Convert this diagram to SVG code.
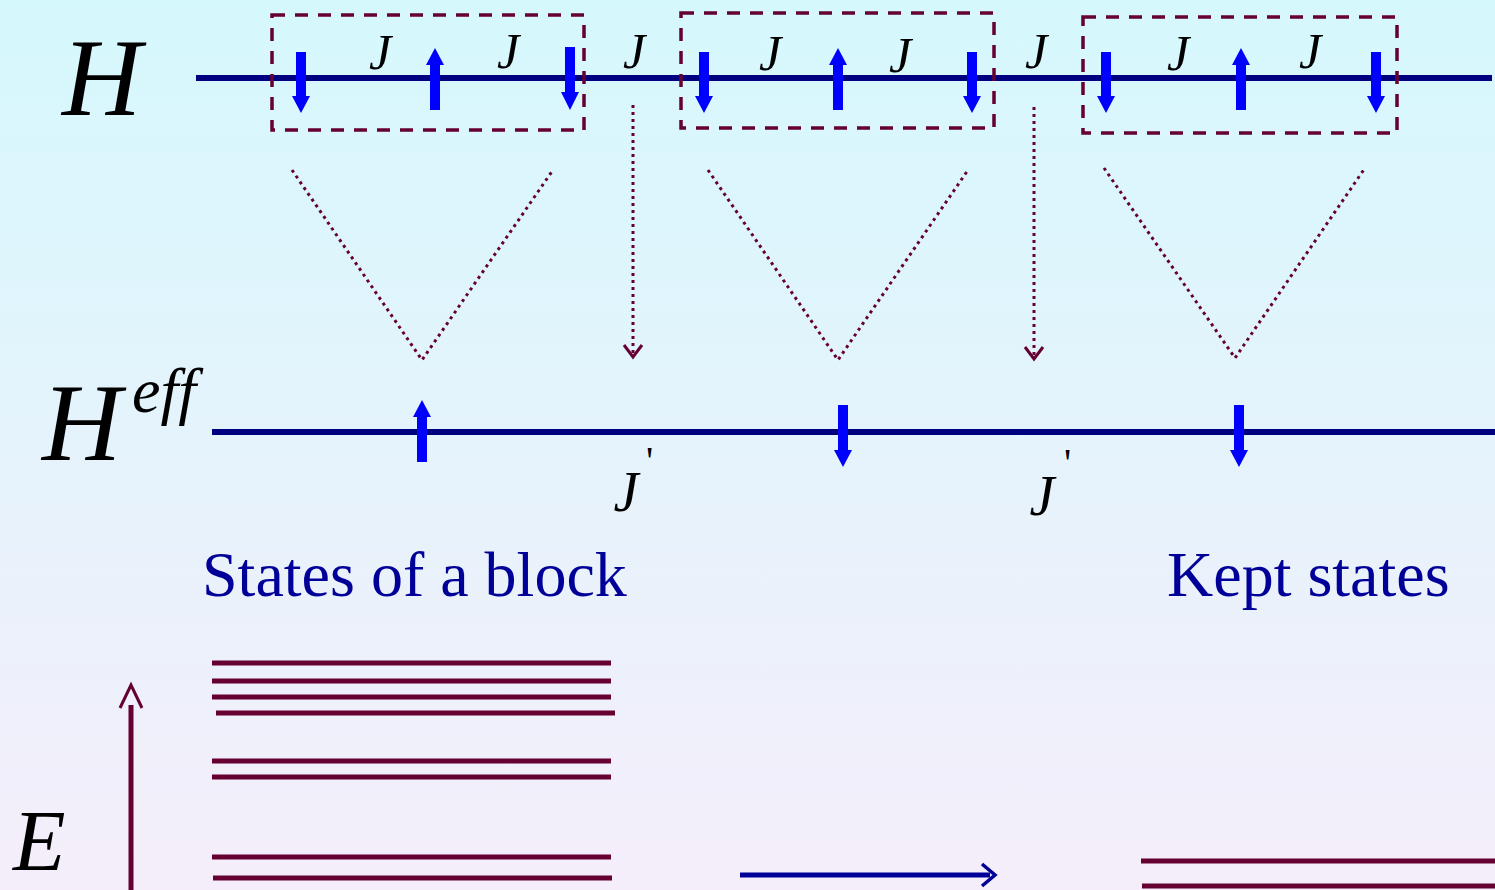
<svg xmlns="http://www.w3.org/2000/svg" width="1495" height="890" viewBox="0 0 1495 890">
<defs>
<linearGradient id="bg" x1="0" y1="0" x2="0" y2="1">
<stop offset="0" stop-color="#d5f8fd"/>
<stop offset="1" stop-color="#f5eefa"/>
</linearGradient>
<style>
.chain{stroke:#000080;stroke-width:6;fill:none}
.spin{fill:#0000ff}
.box{fill:none;stroke:#660033;stroke-width:3.5;stroke-dasharray:13 10}
.dot{fill:none;stroke:#660033;stroke-width:3;stroke-dasharray:3 4}
.head{fill:none;stroke:#660033;stroke-width:3}
.lvl{stroke:#660033;stroke-width:5}
.math{font-family:"Liberation Serif",serif;font-style:italic;fill:#000}
.j{font-size:50px;text-anchor:middle}
.jp{font-size:56px;text-anchor:middle}
.pr{font-family:"Liberation Serif",serif;fill:#000;font-size:40px}
.lbl{font-family:"Liberation Serif",serif;fill:#000099;font-size:64px}
</style>
</defs>
<rect width="1495" height="890" fill="url(#bg)"/>

<g id="H-label"><text class="math" x="62" y="115" font-size="110">H</text></g>
<g id="Heff-label"><text class="math" x="42" y="460" font-size="110">H</text><text class="math" x="132" y="412" font-size="64">eff</text></g>
<g id="E-label"><text class="math" x="13" y="870" font-size="86">E</text></g>

<g id="chain-H"><line class="chain" x1="196" y1="78" x2="1492" y2="78"/></g>
<g id="chain-Heff"><line class="chain" x1="212" y1="432" x2="1495" y2="432"/></g>

<g id="blocks">
<rect class="box" x="272" y="15" width="312" height="115"/>
<rect class="box" x="681" y="13" width="313" height="115"/>
<rect class="box" x="1083" y="17" width="314" height="116"/>
</g>

<g id="spins-H">
<polygon class="spin" points="296,52 306,52 306,96 310,96 301,113 292,96 296,96"/>
<polygon class="spin" points="435,48 444,65 440,65 440,110 430,110 430,65 426,65"/>
<polygon class="spin" points="565,47 575,47 575,92 579,92 570,110 561,92 565,92"/>
<polygon class="spin" points="699,52 709,52 709,96 713,96 704,113 695,96 699,96"/>
<polygon class="spin" points="838,48 847,65 843,65 843,110 833,110 833,65 829,65"/>
<polygon class="spin" points="967,52 977,52 977,96 981,96 972,113 963,96 967,96"/>
<polygon class="spin" points="1101,52 1111,52 1111,96 1115,96 1106,113 1097,96 1101,96"/>
<polygon class="spin" points="1241,48 1250,65 1246,65 1246,110 1236,110 1236,65 1232,65"/>
<polygon class="spin" points="1371,52 1381,52 1381,96 1385,96 1376,113 1367,96 1371,96"/>
</g>

<g id="J-labels">
<text class="math j" x="380" y="69">J</text>
<text class="math j" x="508" y="68">J</text>
<text class="math j" x="634" y="68">J</text>
<text class="math j" x="770" y="70">J</text>
<text class="math j" x="900" y="72">J</text>
<text class="math j" x="1036" y="68">J</text>
<text class="math j" x="1178" y="70">J</text>
<text class="math j" x="1310" y="68">J</text>
</g>

<g id="spins-Heff">
<polygon class="spin" points="422,400 431,417 427,417 427,462 417,462 417,417 413,417"/>
<polygon class="spin" points="838,405 848,405 848,450 852,450 843,467 834,450 838,450"/>
<polygon class="spin" points="1234,405 1244,405 1244,450 1248,450 1239,467 1230,450 1234,450"/>
</g>

<g id="Jprime-labels">
<text class="math jp" x="626" y="511">J</text>
<text class="pr" x="646" y="474">'</text>
<text class="math jp" x="1042" y="515">J</text>
<text class="pr" x="1064" y="476">'</text>
</g>

<g id="connectors">
<polyline class="dot" points="292,170 422,360 553,170"/>
<polyline class="dot" points="708,170 838,360 968,170"/>
<polyline class="dot" points="1104,168 1235,358 1365,168"/>
<line class="dot" x1="633" y1="105" x2="633" y2="355"/>
<polyline class="head" points="624,345 633,357 642,345"/>
<line class="dot" x1="1034" y1="107" x2="1034" y2="357"/>
<polyline class="head" points="1025,347 1034,359 1043,347"/>
<line stroke="#660033" stroke-width="5" x1="131" y1="705" x2="131" y2="890"/>
<polyline class="head" points="120,708 131,685 142,708"/>
<line stroke="#000099" stroke-width="5" x1="740" y1="875" x2="990" y2="875"/>
<polyline fill="none" stroke="#000099" stroke-width="3.5" points="982,864 995,875 982,886"/>
</g>

<g id="levels-block">
<line class="lvl" x1="212" y1="663" x2="611" y2="663"/>
<line class="lvl" x1="212" y1="681" x2="611" y2="681"/>
<line class="lvl" x1="212" y1="697" x2="611" y2="697"/>
<line class="lvl" x1="216" y1="713" x2="615" y2="713"/>
<line class="lvl" x1="212" y1="761" x2="611" y2="761"/>
<line class="lvl" x1="212" y1="777" x2="611" y2="777"/>
<line class="lvl" x1="212" y1="857" x2="611" y2="857"/>
<line class="lvl" x1="213" y1="878" x2="612" y2="878"/>
</g>
<g id="levels-kept">
<line class="lvl" x1="1141" y1="861" x2="1495" y2="861"/>
<line class="lvl" x1="1142" y1="886" x2="1495" y2="886"/>
</g>

<g id="text-states"><text class="lbl" x="202" y="596">States of a block</text></g>
<g id="text-kept"><text class="lbl" x="1167" y="596">Kept states</text></g>
</svg>
